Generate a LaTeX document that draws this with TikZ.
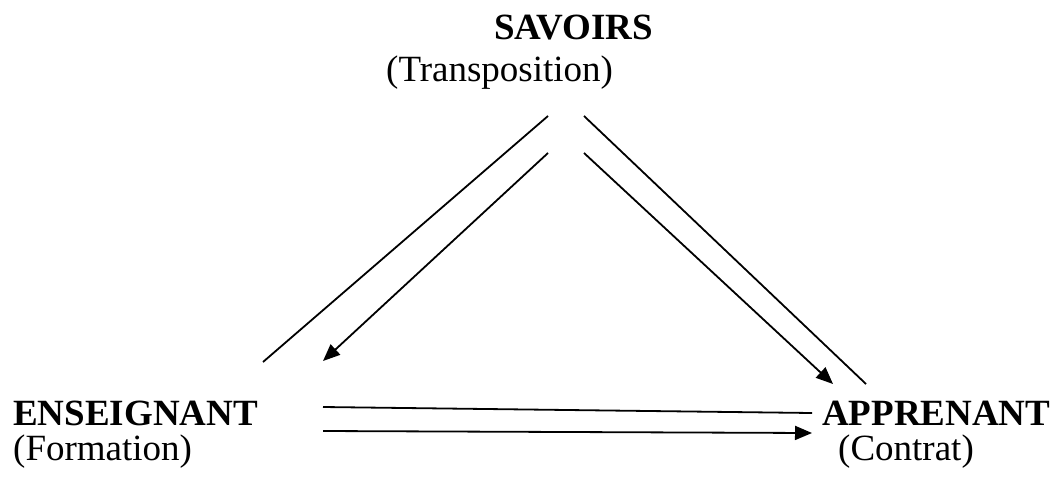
\documentclass[tikz,border=0pt]{standalone}
\usepackage{fontspec}
\setmainfont{Liberation Serif}
\usetikzlibrary{arrows.meta}
\begin{document}
\begin{tikzpicture}[x=1pt,y=-1pt,
  lbl/.style={anchor=base west,inner sep=0pt,font=\fontsize{37}{40}\selectfont},
  ttl/.style={lbl,font=\fontsize{37}{40}\selectfont\bfseries},
  ln/.style={line width=1.8pt},
  arr/.style={ln,-{Triangle[length=17pt,width=14pt]}}]
\useasboundingbox (0,0) rectangle (1054,477);
\node[ttl] (sav) at (494,39) {SAVOIRS};
\node[lbl] (savs) at (386,81) {(Transposition)};
\node[ttl] (ens) at (13,425) {ENSEIGNANT};
\node[lbl] (enss) at (13,460) {(Formation)};
\node[ttl] (app) at (822,425) {APPRENANT};
\node[lbl] (apps) at (838,460) {(Contrat)};
\coordinate (s1) at (548,116);
\coordinate (s2) at (548,153);
\coordinate (s3) at (584,116);
\coordinate (s4) at (584,153);
\coordinate (e1) at (263,362);
\coordinate (e2) at (323,361);
\coordinate (a3) at (866,384);
\coordinate (a4) at (833,384);
\coordinate (e5) at (323,407);
\coordinate (a5) at (812,413);
\coordinate (e6) at (323,431);
\coordinate (a6) at (812,433);
\draw[ln] (s1) -- (e1);
\draw[arr] (s2) -- (e2);
\draw[ln] (s3) -- (a3);
\draw[arr] (s4) -- (a4);
\draw[ln] (e5) -- (a5);
\draw[arr] (e6) -- (a6);
\end{tikzpicture}
\end{document}
